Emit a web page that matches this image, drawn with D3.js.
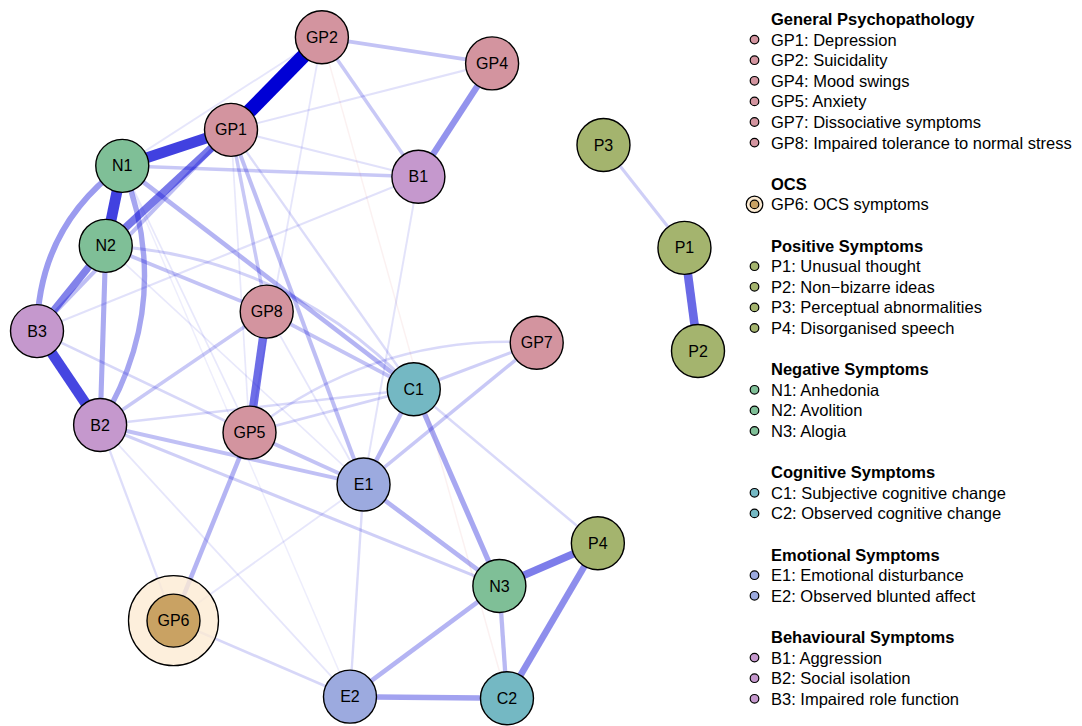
<!DOCTYPE html>
<html>
<head>
<meta charset="utf-8">
<script src="https://cdn.jsdelivr.net/npm/d3@7/dist/d3.min.js"></script>
<style>
  html, body { margin: 0; padding: 0; background: #ffffff; }
  svg { display: block; font-family: "Liberation Sans", Arial, Helvetica, sans-serif; }
</style>
</head>
<body>
<svg id="chart" width="1082" height="726"></svg>
<script>
// ---- symptom nodes ----
const nodeIds = ["GP1","GP2","GP4","GP5","GP7","GP8","GP6",
                 "P1","P2","P3","P4","N1","N2","N3","C1","C2","E1","E2","B1","B2","B3"];
const nodeGroup = ["GP","GP","GP","GP","GP","GP","OCS",
                   "P","P","P","P","N","N","N","C","C","E","E","B","B","B"];
// layout coordinates on a [-1, 1] square
const layoutX = [-0.413,-0.138, 0.377,-0.357, 0.512,-0.305,-0.587,
                  0.959, 1.000, 0.714, 0.697,-0.742,-0.792, 0.399, 0.140, 0.422,-0.012,-0.053, 0.154,-0.809,-1.000];
const layoutY = [ 0.720, 1.000, 0.921,-0.196, 0.076, 0.170,-0.765,
                  0.363, 0.051, 0.674,-0.531, 0.611, 0.369,-0.660,-0.065,-1.000,-0.353,-0.995, 0.578,-0.173, 0.111];

// ---- legend groups ----
const groupKeys   = ["GP","OCS","P","N","C","E","B"];
const groupTitles = ["General Psychopathology","OCS","Positive Symptoms","Negative Symptoms",
                     "Cognitive Symptoms","Emotional Symptoms","Behavioural Symptoms"];
const groupColors = ["#D3949F","#C9A263","#A4B46E","#7FBF97","#74B8C3","#9CAADF","#C598CD"];
const groupItems  = [
  ["GP1: Depression","GP2: Suicidality","GP4: Mood swings","GP5: Anxiety","GP7: Dissociative symptoms","GP8: Impaired tolerance to normal stress"],
  ["GP6: OCS symptoms"],
  ["P1: Unusual thought","P2: Non\u2212bizarre ideas","P3: Perceptual abnormalities","P4: Disorganised speech"],
  ["N1: Anhedonia","N2: Avolition","N3: Alogia"],
  ["C1: Subjective cognitive change","C2: Observed cognitive change"],
  ["E1: Emotional disturbance","E2: Observed blunted affect"],
  ["B1: Aggression","B2: Social isolation","B3: Impaired role function"]
];

// ---- edges (partial-correlation weights, relative to the strongest) ----
const edgeFrom = ["GP1","GP1","N1","B3","GP8","GP1","N2","P1","N3","P4","GP4","N1","N1","N2","E2","C1","E1","N3","N3","GP5",
                  "C1","N1","GP1","GP1","GP1","B2","B2","GP8","N2","GP2","GP2","N1","P3","GP7","GP7","GP5","B2","E2","C1","GP5",
                  "B2","N2","GP5","GP4","GP1","B1","B1","GP2","GP2","GP1","E1","E1","B2","B2","GP2","N1","N2","GP1","GP8","B3","N1"];
const edgeTo   = ["GP2","N1","N2","B2","GP5","N2","B3","P2","P4","C2","B1","B3","B2","B2","C2","N3","N3","E2","C2","GP6",
                  "E1","C1","E1","GP8","B3","E1","GP8","C1","GP8","GP4","B1","B1","P1","C1","E1","E1","N3","GP6","P4","C1",
                  "C1","C1","GP7","GP1","B1","B3","E1","N1","GP5","C1","E2","GP6","GP6","E2","C2","GP5","E1","GP5","E1","GP5","E2"];
const edgeWeight = [1.00,0.74,0.74,0.72,0.56,0.52,0.48,0.58,0.50,0.43,0.41,0.38,0.34,0.32,0.35,0.33,0.28,0.28,0.26,0.28,
                    0.27,0.28,0.24,0.20,0.24,0.23,0.20,0.22,0.22,0.22,0.20,0.20,0.17,0.17,0.20,0.22,0.17,0.14,0.13,0.15,
                    0.13,0.16,0.13,0.10,0.10,0.10,0.09,0.08,0.08,0.12,0.12,0.08,0.11,0.08,-0.05,0.07,0.07,0.07,0.08,0.14,0.05];

const svg = d3.select("#chart");
const W = 1082, H = 726;
svg.append("rect").attr("width", W).attr("height", H).attr("fill", "#ffffff");

const x = d3.scaleLinear().domain([-1, 1]).range([37, 698]);
const y = d3.scaleLinear().domain([-1, 1]).range([698.3, 37.3]);
const widthScale = d3.scaleLinear().domain([0, 1]).range([0.8, 14.3]);
const alphaScale = d3.scaleLinear().domain([0, 1]).range([0.02, 1]).clamp(true);
const color = d3.scaleOrdinal().domain(groupKeys).range(groupColors);

const nodes = nodeIds.map((id, i) => ({ id, group: nodeGroup[i], px: x(layoutX[i]), py: y(layoutY[i]) }));
const byId = new Map(nodes.map(n => [n.id, n]));
const edges = edgeFrom.map((f, i) => ({ source: byId.get(f), target: byId.get(edgeTo[i]), w: edgeWeight[i] }));

// bent edges: control-point offset as a fraction of chord length, sign picks the side
const bend = { "N1-B3": 0.25, "N1-B2": -0.25, "N2-C1": -0.2, "GP5-GP7": -0.19 };

function edgePath(e) {
  const x0 = e.source.px, y0 = e.source.py, x1 = e.target.px, y1 = e.target.py;
  const b = bend[e.source.id + "-" + e.target.id] || 0;
  if (!b) return `M${x0},${y0}L${x1},${y1}`;
  const dx = x1 - x0, dy = y1 - y0;
  const cx = (x0 + x1) / 2 - dy * b;
  const cy = (y0 + y1) / 2 + dx * b;
  return `M${x0},${y0}Q${cx},${cy} ${x1},${y1}`;
}

const order = edges.slice().sort((a, b) => Math.abs(a.w) - Math.abs(b.w));
svg.append("g").attr("class", "edges")
  .selectAll("path").data(order).join("path")
  .attr("d", edgePath)
  .attr("fill", "none")
  .attr("stroke", d => d.w >= 0 ? "#0000D5" : "#C83C3C")
  .attr("stroke-opacity", d => alphaScale(Math.abs(d.w)))
  .attr("stroke-width", d => widthScale(Math.abs(d.w)))
  .attr("stroke-linecap", "butt");

const R = 26.5;
const gNodes = svg.append("g").attr("class", "nodes");
// halo ring around the OCS node
nodes.filter(n => n.group === "OCS").forEach(n => {
  gNodes.append("circle").attr("cx", n.px).attr("cy", n.py).attr("r", 45)
    .attr("fill", "#FCEBD3").attr("fill-opacity", 0.8)
    .attr("stroke", "#000").attr("stroke-width", 1.3);
});
gNodes.selectAll("circle.node").data(nodes).join("circle")
  .attr("class", "node")
  .attr("cx", d => d.px).attr("cy", d => d.py).attr("r", R)
  .attr("fill", d => color(d.group))
  .attr("stroke", "#000").attr("stroke-width", 1.4);
gNodes.selectAll("text").data(nodes).join("text")
  .attr("x", d => d.px).attr("y", d => d.py + 5.6)
  .attr("text-anchor", "middle")
  .attr("font-size", 16).attr("fill", "#000")
  .text(d => d.id);

// ---- legend ----
const leg = svg.append("g").attr("class", "legend");
const lineH = 20.6, base0 = 25, textX = 771, dotX = 754.5;
let k = 0;
groupTitles.forEach((title, gi) => {
  leg.append("text").attr("x", textX).attr("y", base0 + lineH * k)
    .attr("font-size", 16.5).attr("font-weight", "bold").attr("fill", "#000").text(title);
  k++;
  groupItems[gi].forEach(label => {
    const by = base0 + lineH * k;
    if (groupKeys[gi] === "OCS") {
      leg.append("circle").attr("cx", dotX).attr("cy", by - 6).attr("r", 8.3)
        .attr("fill", "#FCEBD3").attr("stroke", "#000").attr("stroke-width", 1.2);
    }
    leg.append("circle").attr("cx", dotX).attr("cy", by - 6).attr("r", 4.3)
      .attr("fill", groupColors[gi]).attr("stroke", "#000").attr("stroke-width", 1.2);
    leg.append("text").attr("x", textX).attr("y", by)
      .attr("font-size", 16.5).attr("fill", "#000").text(label);
    k++;
  });
  k++;
});
</script>
</body>
</html>
